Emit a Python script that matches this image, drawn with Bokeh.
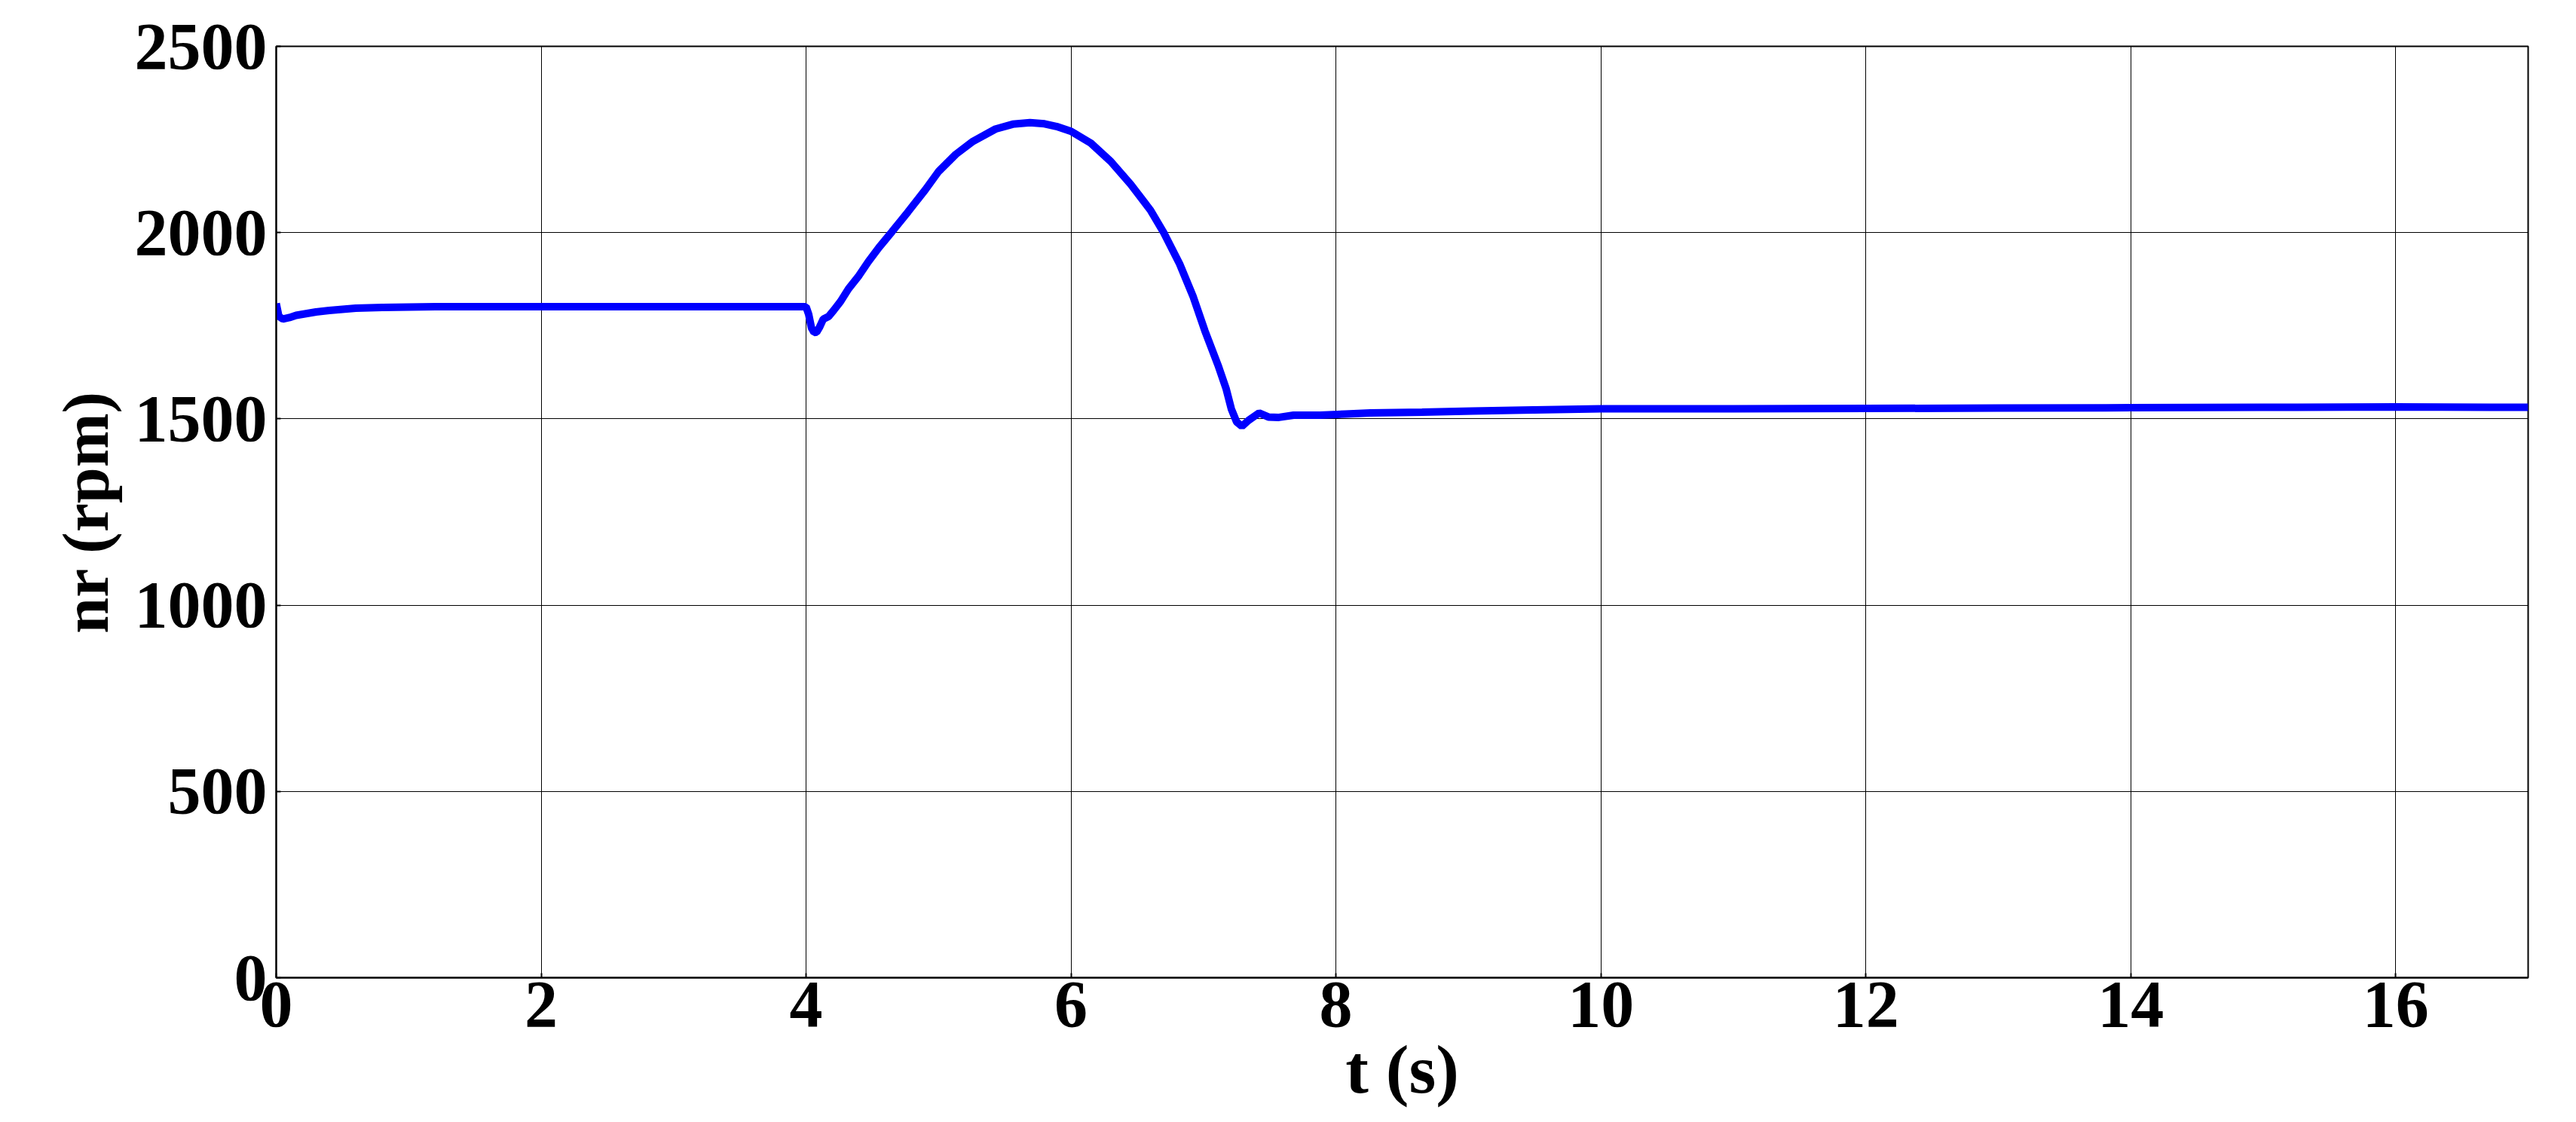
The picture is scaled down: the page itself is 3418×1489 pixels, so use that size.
from bokeh.plotting import figure
from bokeh.models import Range1d, FixedTicker
from bokeh.embed import file_html
from bokeh.resources import INLINE

# ---- data ----
t = [0, 0.02, 0.05, 0.1, 0.15, 0.2, 0.3, 0.4, 0.5, 0.6, 0.8, 1.0, 1.2, 2.0, 3.0,
     4.0, 4.02, 4.04, 4.06, 4.08, 4.1, 4.13, 4.17, 4.21, 4.26, 4.32, 4.4, 4.47,
     4.55, 4.65, 4.77, 4.9, 5.0, 5.13, 5.26, 5.43, 5.56, 5.69, 5.8, 5.89, 6.0,
     6.15, 6.3, 6.45, 6.6, 6.7, 6.82, 6.92, 7.01, 7.11, 7.17, 7.21, 7.25, 7.29,
     7.34, 7.42, 7.49, 7.57, 7.68, 7.88, 8.07, 8.26, 8.65, 9.03, 9.5, 10, 11,
     12, 13, 14, 15, 16, 17]
nr = [1810, 1775, 1768, 1772, 1778, 1781, 1787, 1791, 1794, 1797, 1799, 1800,
      1801, 1801, 1801, 1801, 1780, 1745, 1732, 1733, 1745, 1768, 1775, 1792,
      1815, 1849, 1885, 1922, 1960, 2003, 2056, 2115, 2164, 2210, 2245, 2278,
      2291, 2295, 2292, 2285, 2272, 2240, 2191, 2130, 2060, 2000, 1916, 1830,
      1737, 1644, 1582, 1527, 1492, 1480, 1496, 1516, 1505, 1504, 1510, 1510,
      1513, 1516, 1518, 1521, 1524, 1527, 1527, 1528, 1529, 1530, 1531, 1532,
      1531]
x_ticks = [0, 2, 4, 6, 8, 10, 12, 14, 16]
y_ticks = [0, 500, 1000, 1500, 2000, 2500]
x_label = "t (s)"
y_label = "nr (rpm)"

W, H = 3400, 1473
p = figure(width=W, height=H, output_backend="svg", toolbar_location=None,
           x_range=Range1d(0, 17), y_range=Range1d(0, 2500),
           min_border_left=366, min_border_right=W - 3354,
           min_border_top=61, min_border_bottom=H - 1297)

p.line(t, nr, line_color="#0000FF", line_width=10)

FONT = "Liberation Serif"
for ax in (p.xaxis, p.yaxis):
    ax.major_label_text_font = FONT
    ax.major_label_text_font_style = "bold"
    ax.major_label_text_font_size = "88px"
    ax.major_label_text_color = "black"
    ax.axis_label_text_font = FONT
    ax.axis_label_text_font_style = "bold"
    ax.axis_label_text_color = "black"
    ax.axis_line_color = "black"
    ax.axis_line_width = 2
    ax.major_tick_in = 6
    ax.major_tick_out = 0
    ax.major_tick_line_color = "black"
    ax.major_tick_line_width = 2
    ax.minor_tick_line_color = None

p.xaxis.axis_label_text_font_size = "92px"
p.yaxis.axis_label_text_font_size = "86px"
p.xaxis.ticker = FixedTicker(ticks=x_ticks)
p.yaxis.ticker = FixedTicker(ticks=y_ticks)
p.xaxis.axis_label = x_label
p.yaxis.axis_label = y_label
p.xaxis.major_label_standoff = 6
p.yaxis.major_label_standoff = 12
p.xaxis.axis_label_standoff = 3
p.yaxis.axis_label_standoff = 14

p.xgrid.ticker = FixedTicker(ticks=x_ticks)
p.ygrid.ticker = FixedTicker(ticks=y_ticks)
for g in (p.xgrid, p.ygrid):
    g.grid_line_color = "black"
    g.grid_line_width = 1
    g.grid_line_alpha = 1.0

p.outline_line_color = "black"
p.outline_line_width = 2
p.outline_line_alpha = 1.0
p.background_fill_color = "white"
p.border_fill_color = "white"

open("out.html", "w").write(file_html(p, INLINE))
